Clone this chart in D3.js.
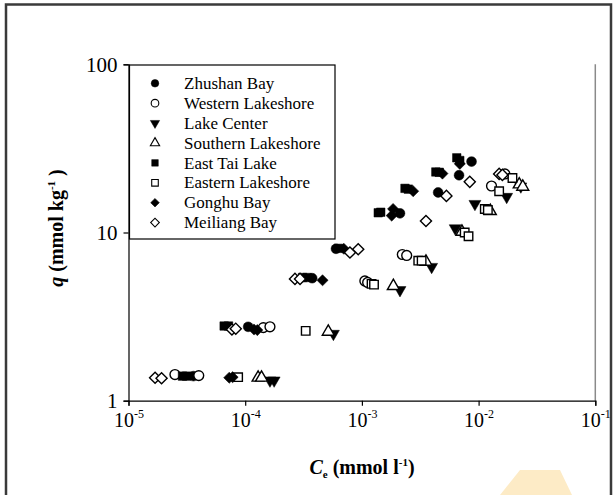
<!DOCTYPE html>
<html>
<head>
<meta charset="utf-8">
<script src="https://cdn.jsdelivr.net/npm/d3@7"></script>
<style>
  body { margin: 0; background: #fff; }
  #vis { width: 616px; height: 495px; }
  text { font-family: "Liberation Serif", "Times New Roman", serif; fill: #000; }
</style>
</head>
<body>
<div id="vis"></div>
<script>
// [Ce (mmol/l), q (mmol/kg)]
var zhushanBay = [[3.6e-5, 1.40], [1.06e-4, 2.75], [3.75e-4, 5.35], [6.0e-4, 8.0], [2.12e-3, 13.0], [4.5e-3, 17.3], [6.8e-3, 21.9], [8.7e-3, 26.4]];
var westernLakeshore = [[2.5e-5, 1.43], [4.0e-5, 1.41], [1.43e-4, 2.72], [1.63e-4, 2.75], [1.06e-3, 5.15], [1.12e-3, 5.05], [2.22e-3, 7.4], [2.42e-3, 7.3], [1.29e-2, 18.9], [1.68e-2, 22.3]];
var lakeCenter = [[1.63e-4, 1.32], [1.77e-4, 1.32], [5.7e-4, 2.5], [2.12e-3, 4.55], [3.96e-3, 6.25], [6.3e-3, 10.6], [9.3e-3, 14.8], [1.74e-2, 16.3], [2.3e-2, 18.8]];
var southernLakeshore = [[1.29e-4, 1.37], [1.38e-4, 1.37], [5.15e-4, 2.57], [1.86e-3, 4.8], [3.54e-3, 6.7], [7.2e-3, 10.1], [1.26e-2, 13.4], [2.23e-2, 19.3], [2.39e-2, 18.7]];
var eastTaiLake = [[2.9e-5, 1.40], [3.15e-5, 1.40], [6.6e-5, 2.78], [7.2e-5, 2.78], [3.1e-4, 5.4], [3.4e-4, 5.4], [6.3e-4, 8.05], [1.38e-3, 13.1], [1.45e-3, 13.2], [2.34e-3, 18.3], [2.5e-3, 18.1], [4.3e-3, 22.9], [4.6e-3, 22.8], [6.5e-3, 27.8], [6.9e-3, 26.8]];
var easternLakeshore = [[8.7e-5, 1.38], [3.3e-4, 2.6], [1.21e-3, 4.95], [1.27e-3, 4.9], [3.04e-3, 6.8], [3.25e-3, 6.8], [7.6e-3, 10.0], [8.2e-3, 9.5], [1.13e-2, 13.8], [1.2e-2, 13.6], [1.5e-2, 17.6], [1.95e-2, 21.1]];
var gonghuBay = [[7.3e-5, 1.37], [7.8e-5, 1.38], [1.19e-4, 2.65], [1.27e-4, 2.63], [4.6e-4, 5.2], [7.0e-4, 8.0], [1.8e-3, 12.6], [1.85e-3, 13.8], [2.75e-3, 17.6], [4.9e-3, 22.4], [6.9e-3, 25.6]];
var meiliangBay = [[1.69e-5, 1.37], [1.92e-5, 1.36], [7.7e-5, 2.65], [8.3e-5, 2.68], [2.67e-4, 5.3], [2.95e-4, 5.3], [7.9e-4, 7.6], [9.3e-4, 7.95], [3.54e-3, 11.7], [5.3e-3, 16.5], [8.4e-3, 20.0], [1.5e-2, 22.3], [1.6e-2, 22.0]];

var seriesNames = ['Zhushan Bay', 'Western Lakeshore', 'Lake Center', 'Southern Lakeshore', 'East Tai Lake', 'Eastern Lakeshore', 'Gonghu Bay', 'Meiliang Bay'];
var xTicks = [1e-5, 1e-4, 1e-3, 1e-2, 1e-1];
var xTickExp = ['-5', '-4', '-3', '-2', '-1'];
var yTicks = [1, 10, 100];

var series = [
    { name: seriesNames[0], data: zhushanBay, shape: 'circle', filled: true },
    { name: seriesNames[1], data: westernLakeshore, shape: 'circle', filled: false },
    { name: seriesNames[2], data: lakeCenter, shape: 'down', filled: true },
    { name: seriesNames[3], data: southernLakeshore, shape: 'up', filled: false },
    { name: seriesNames[4], data: eastTaiLake, shape: 'square', filled: true },
    { name: seriesNames[5], data: easternLakeshore, shape: 'square', filled: false },
    { name: seriesNames[6], data: gonghuBay, shape: 'diamond', filled: true },
    { name: seriesNames[7], data: meiliangBay, shape: 'diamond', filled: false }
];

var width = 616, height = 495;
var margin = { top: 64.3, bottom: 94.3, left: 128.5, right: 20.7 };

var svg = d3.select('#vis')
    .append('svg')
    .attr('width', width)
    .attr('height', height);

// outer frame + faint watermark
svg.append('path')
    .attr('d', 'M500,495 L520,470 L560,470 L572,495 Z')
    .attr('fill', '#fdebc6');
svg.append('path')
    .attr('d', 'M6,500 L6,4.5 L611,4.5 L611,500')
    .attr('fill', 'none')
    .attr('stroke', '#3a3a3a')
    .attr('stroke-width', 2.5);

var x_scale = d3.scaleLog()
    .domain([1e-5, 1e-1])
    .range([margin.left, width - margin.right]);

var y_scale = d3.scaleLog()
    .domain([1, 100])
    .range([height - margin.bottom, margin.top]);

// right edge of plot
svg.append('line')
    .attr('x1', x_scale(1e-1)).attr('x2', x_scale(1e-1))
    .attr('y1', y_scale(100)).attr('y2', y_scale(1))
    .attr('stroke', '#8a8a8a')
    .attr('stroke-width', 1.5);

var y_axis = d3.axisLeft(y_scale)
    .tickValues(yTicks)
    .tickFormat(d3.format('d'))
    .tickSize(5)
    .tickPadding(6);

var x_axis = d3.axisBottom(x_scale)
    .tickValues(xTicks)
    .tickFormat('')
    .tickSize(5);

var gy = svg.append('g')
    .attr('class', 'y axis')
    .attr('transform', 'translate(' + margin.left + ',0)')
    .call(y_axis);

var gx = svg.append('g')
    .attr('class', 'x axis')
    .attr('transform', 'translate(0,' + (height - margin.bottom) + ')')
    .call(x_axis);

svg.selectAll('.axis path, .axis line')
    .attr('stroke', '#000')
    .attr('stroke-width', 1.2);

gy.selectAll('text')
    .style('font-family', '"Liberation Serif", serif')
    .style('font-size', '21px')
    .attr('fill', '#000');

var xl = gx.selectAll('.tick')
    .append('text')
    .attr('y', 26)
    .attr('text-anchor', 'middle')
    .style('font-family', '"Liberation Serif", serif')
    .style('font-size', '20px')
    .attr('fill', '#000');
xl.append('tspan').text('10');
xl.append('tspan')
    .attr('dy', -9)
    .style('font-size', '12px')
    .text(function(d, i) { return xTickExp[i]; });

// axis titles
var xt = svg.append('text')
    .attr('x', 362)
    .attr('y', 474)
    .attr('text-anchor', 'middle')
    .style('font-size', '20px')
    .style('font-weight', 'bold');
xt.append('tspan').style('font-style', 'italic').text('C');
xt.append('tspan').attr('dy', 4).style('font-size', '11px').text('e');
xt.append('tspan').attr('dy', -4).text(' (mmol l');
xt.append('tspan').attr('dy', -8).style('font-size', '11px').text('-1');
xt.append('tspan').attr('dy', 8).text(')');

var yt = svg.append('text')
    .attr('transform', 'translate(63,228) rotate(-90)')
    .attr('text-anchor', 'middle')
    .style('font-size', '20px')
    .style('font-weight', 'bold');
yt.append('tspan').style('font-style', 'italic').text('q');
yt.append('tspan').text(' (mmol kg');
yt.append('tspan').attr('dy', -8).style('font-size', '11px').text('-1');
yt.append('tspan').attr('dy', 8).text(' )');

function symbolPath(shape, k) {
    if (shape === 'circle') return d3.symbol(d3.symbolCircle, 76 * k)();
    if (shape === 'square') return d3.symbol(d3.symbolSquare, 72 * k)();
    if (shape === 'diamond') return d3.symbol(d3.symbolSquare, 62 * k)();
    return d3.symbol(d3.symbolTriangle, 62 * k)();
}

function symbolRotate(shape) {
    if (shape === 'diamond') return ' rotate(45)';
    if (shape === 'down') return ' rotate(180)';
    return '';
}

// points
series.forEach(function(s) {
    svg.append('g')
        .selectAll('path')
        .data(s.data)
        .enter()
        .append('path')
        .attr('d', symbolPath(s.shape, 1))
        .attr('transform', function(d) {
            return 'translate(' + x_scale(d[0]) + ',' + y_scale(d[1]) + ')' + symbolRotate(s.shape);
        })
        .attr('fill', s.filled ? '#000' : '#fff')
        .attr('stroke', '#000')
        .attr('stroke-width', s.filled ? 0.5 : 1.4);
});

// legend
var legend = svg.append('g');
legend.append('rect')
    .attr('x', margin.left + 1)
    .attr('y', 65)
    .attr('width', 205.5)
    .attr('height', 174)
    .attr('fill', '#fff')
    .attr('stroke', '#000')
    .attr('stroke-width', 1.2);

var items = legend.selectAll('.item')
    .data(series)
    .enter()
    .append('g')
    .attr('class', 'item')
    .attr('transform', function(d, i) { return 'translate(0,' + (83.3 + i * 19.9) + ')'; });

items.append('path')
    .attr('d', function(d) { return symbolPath(d.shape, 0.6); })
    .attr('transform', function(d) { return 'translate(155,0)' + symbolRotate(d.shape); })
    .attr('fill', function(d) { return d.filled ? '#000' : '#fff'; })
    .attr('stroke', '#000')
    .attr('stroke-width', function(d) { return d.filled ? 0.5 : 1.1; });

items.append('text')
    .attr('x', 184)
    .attr('dy', '0.33em')
    .style('font-size', '17px')
    .text(function(d) { return d.name; });
</script>
</body>
</html>
